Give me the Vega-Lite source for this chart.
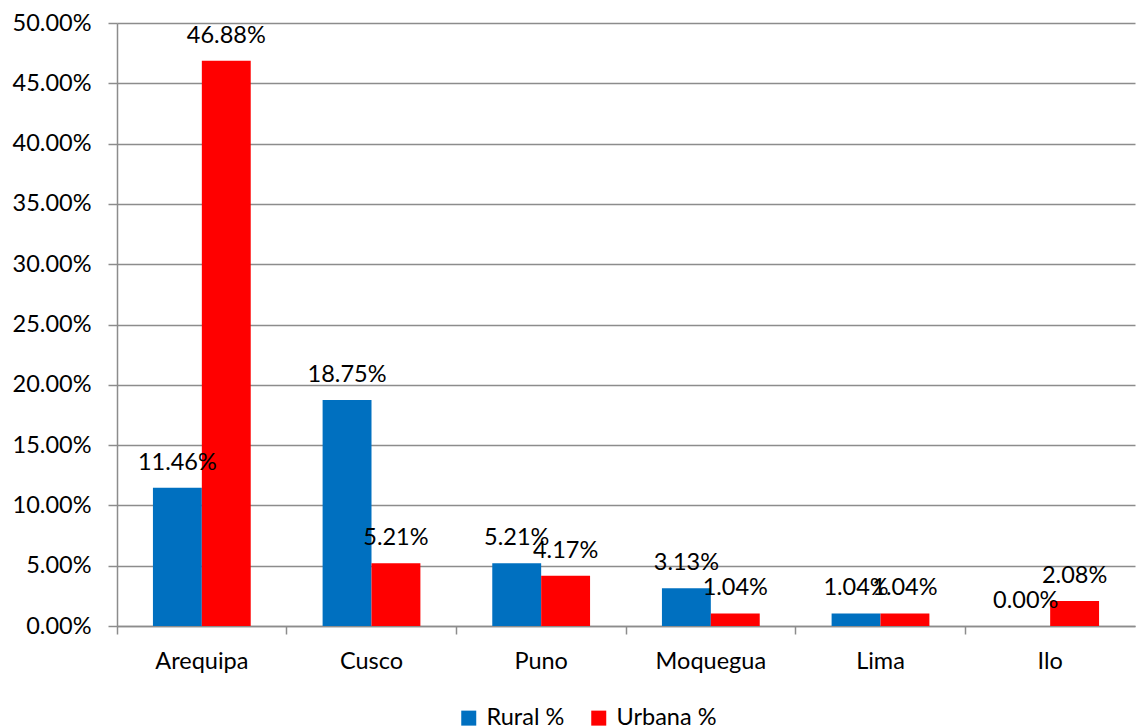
{
  "$schema": "https://vega.github.io/schema/vega-lite/v6.json",
  "width": 1018,
  "height": 603,
  "autosize": {"type": "none"},
  "padding": {"left": 117, "top": 23, "right": 2, "bottom": 102},
  "background": "white",
  "config": {
    "font": "Lato",
    "view": {"stroke": null},
    "axis": {"labelFont": "Lato", "labelFontSize": 23.5, "labelColor": "#000000", "domainColor": "#8C8C8C", "tickColor": "#8C8C8C", "gridColor": "#8C8C8C", "domainWidth": 1.5, "tickWidth": 1.5, "gridWidth": 1.5}
  },
  "data": {
    "values": [
      {"ciudad": "Arequipa", "tipo": "Rural %", "valor": 0.1146},
      {"ciudad": "Arequipa", "tipo": "Urbana %", "valor": 0.4688},
      {"ciudad": "Cusco", "tipo": "Rural %", "valor": 0.1875},
      {"ciudad": "Cusco", "tipo": "Urbana %", "valor": 0.0521},
      {"ciudad": "Puno", "tipo": "Rural %", "valor": 0.0521},
      {"ciudad": "Puno", "tipo": "Urbana %", "valor": 0.0417},
      {"ciudad": "Moquegua", "tipo": "Rural %", "valor": 0.0313},
      {"ciudad": "Moquegua", "tipo": "Urbana %", "valor": 0.0104},
      {"ciudad": "Lima", "tipo": "Rural %", "valor": 0.0104},
      {"ciudad": "Lima", "tipo": "Urbana %", "valor": 0.0104},
      {"ciudad": "Ilo", "tipo": "Rural %", "valor": 0.0},
      {"ciudad": "Ilo", "tipo": "Urbana %", "valor": 0.0208}
    ]
  },
  "encoding": {
    "x": {
      "field": "ciudad", "type": "nominal", "sort": null,
      "scale": {"paddingInner": 0, "paddingOuter": 0},
      "axis": {"title": null, "labelAngle": 0, "bandPosition": 0, "tickSize": 8, "labelPadding": 15, "grid": false, "labelBaseline": "top"}
    },
    "xOffset": {
      "field": "tipo", "type": "nominal", "sort": ["Rural %", "Urbana %"],
      "scale": {"paddingInner": 0, "paddingOuter": 0.735}
    },
    "y": {
      "field": "valor", "type": "quantitative",
      "scale": {"domain": [0, 0.5], "nice": false},
      "axis": {"title": null, "format": ".2%", "values": [0, 0.05, 0.1, 0.15, 0.2, 0.25, 0.3, 0.35, 0.4, 0.45, 0.5], "tickSize": 9, "labelPadding": 17, "grid": true}
    }
  },
  "layer": [
    {
      "mark": {"type": "bar"},
      "encoding": {
        "color": {
          "field": "tipo", "type": "nominal", "sort": ["Rural %", "Urbana %"],
          "scale": {"domain": ["Rural %", "Urbana %"], "range": ["#0070C0", "#FF0000"]},
          "legend": {"title": null, "orient": "none", "direction": "horizontal", "legendX": 340, "legendY": 683, "symbolType": "square", "symbolSize": 225, "symbolStrokeWidth": 0, "labelFontSize": 23.5, "labelFont": "Lato", "labelColor": "#000000", "columnPadding": 22, "labelOffset": 6}
        }
      }
    },
    {
      "mark": {"type": "text", "baseline": "alphabetic", "dy": -18, "fontSize": 23.5, "font": "Lato", "color": "#000000"},
      "encoding": {
        "text": {"field": "valor", "type": "quantitative", "format": ".2%"}
      }
    }
  ]
}
